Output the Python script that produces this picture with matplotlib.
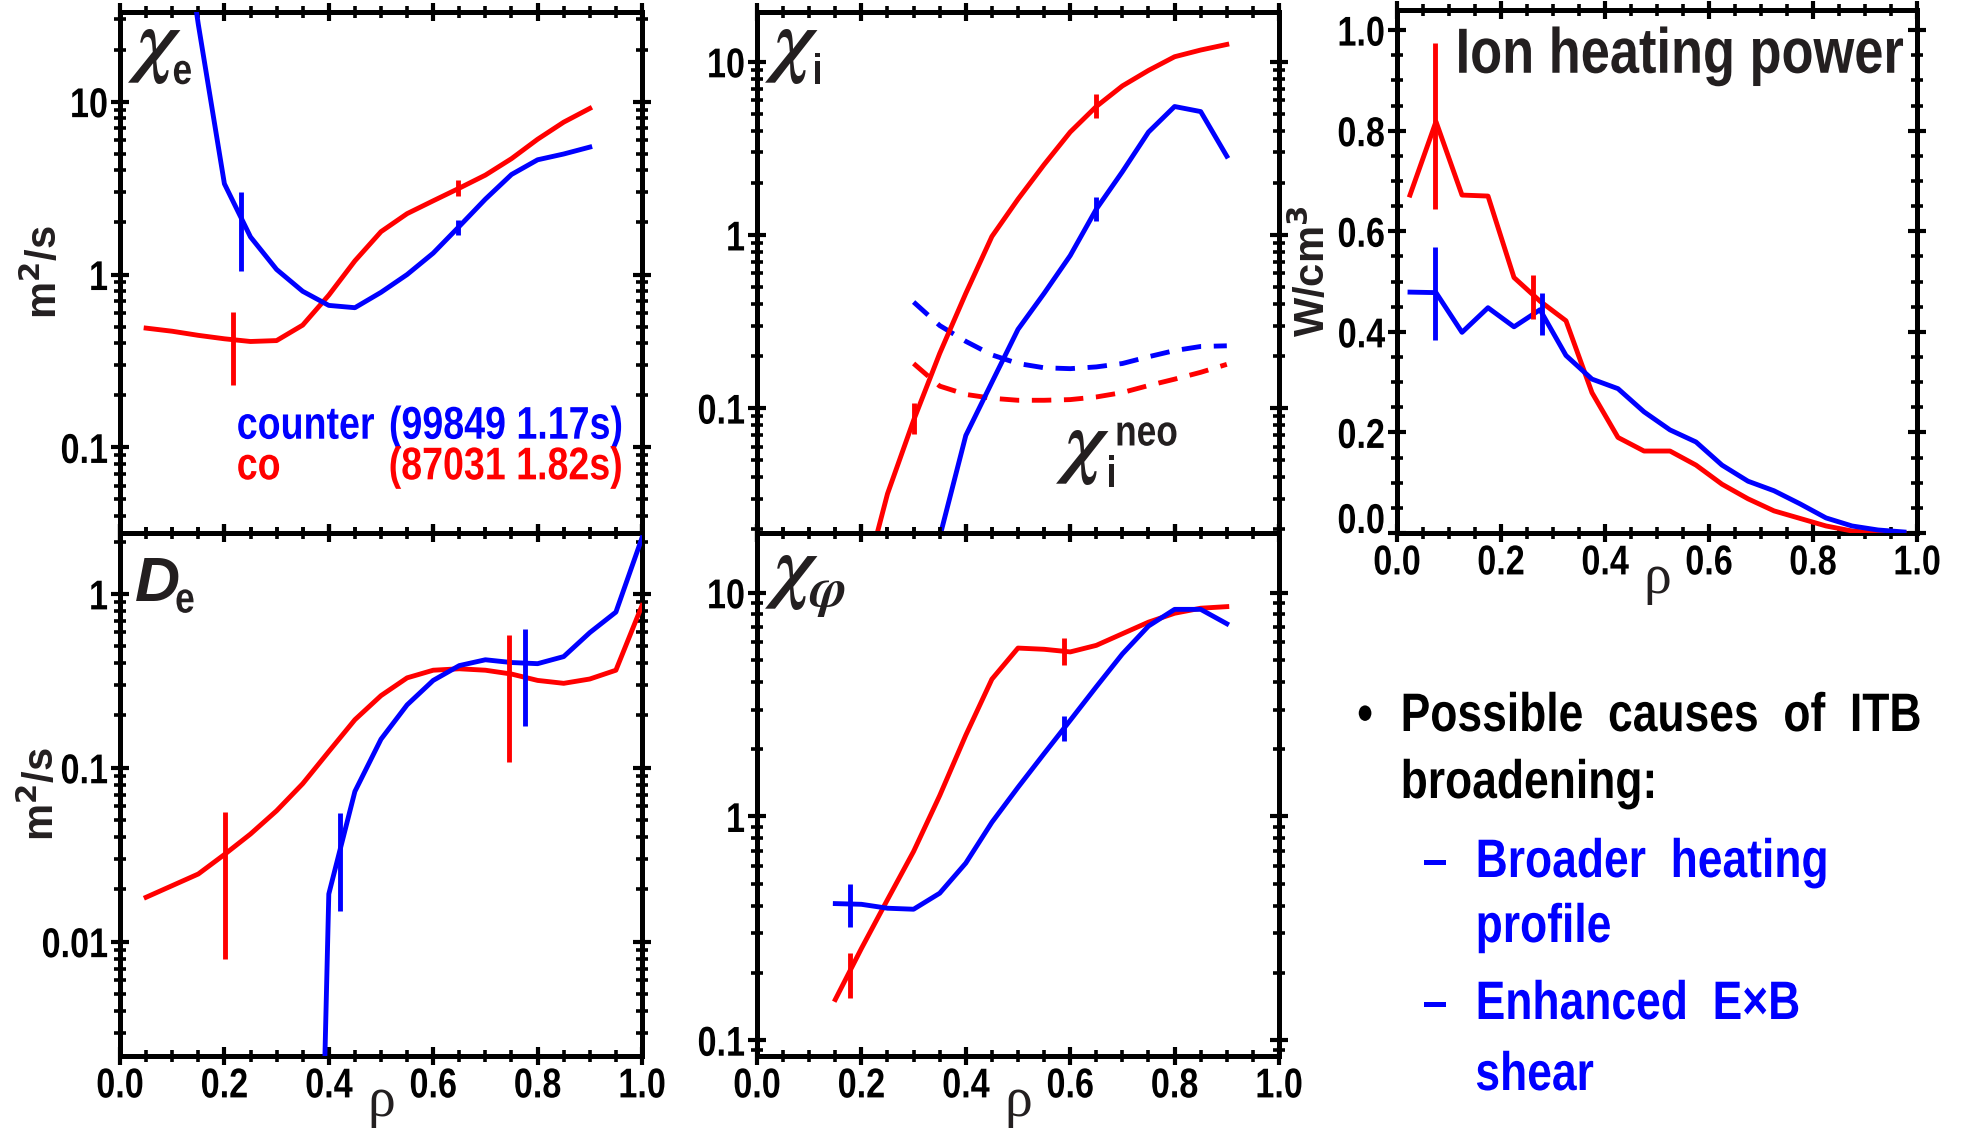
# -*- encoding: utf-8 -*-
import numpy as np
import matplotlib
matplotlib.use('Agg')
from matplotlib import pyplot as plt
from matplotlib.patheffects import AbstractPathEffect
from matplotlib.transforms import Affine2D
from matplotlib.ticker import FixedLocator, LogLocator, MultipleLocator, NullFormatter, FuncFormatter

RED = '#ff0000'
BLUE = '#0000ff'
INK = '#231f20'

# ---- chi_e (top left) ----
chie_co_x = [0.05, 0.10, 0.15, 0.20, 0.25, 0.30, 0.35, 0.40, 0.45, 0.50, 0.55, 0.60, 0.65, 0.70, 0.75, 0.80, 0.85, 0.90]
chie_co = [0.49, 0.47, 0.445, 0.425, 0.41, 0.415, 0.51, 0.76, 1.2, 1.77, 2.25, 2.67, 3.16, 3.76, 4.68, 6.06, 7.61, 9.14]
chie_cnt_x = [0.10, 0.15, 0.20, 0.25, 0.30, 0.35, 0.40, 0.45, 0.50, 0.55, 0.60, 0.65, 0.70, 0.75, 0.80, 0.85, 0.90]
chie_cnt = [300, 28, 3.35, 1.65, 1.07, 0.80, 0.663, 0.643, 0.789, 1.0, 1.33, 1.90, 2.73, 3.79, 4.61, 4.98, 5.46]
chie_co_eb_x, chie_co_eb_y, chie_co_eb = [0.216, 0.648], [0.42, 3.17], [0.19, 0.33]
chie_cnt_eb_x, chie_cnt_eb_y, chie_cnt_eb = [0.231, 0.648], [2.02, 1.88], [0.97, 0.19]

# ---- chi_i (top middle) ----
chii_co_x = [0.20, 0.25, 0.30, 0.35, 0.40, 0.45, 0.50, 0.55, 0.60, 0.65, 0.70, 0.75, 0.80, 0.85, 0.90]
chii_co = [0.0085, 0.032, 0.085, 0.207, 0.46, 0.98, 1.61, 2.55, 3.93, 5.52, 7.26, 8.92, 10.7, 11.7, 12.6]
chii_cnt_x = [0.35, 0.40, 0.45, 0.50, 0.55, 0.60, 0.65, 0.70, 0.75, 0.80, 0.85, 0.90]
chii_cnt = [0.018, 0.0695, 0.141, 0.285, 0.46, 0.76, 1.41, 2.32, 3.93, 5.52, 5.16, 2.85]
neo_x = [0.30, 0.35, 0.40, 0.45, 0.50, 0.55, 0.60, 0.65, 0.70, 0.75, 0.80, 0.85, 0.90]
neo_cnt = [0.41, 0.30, 0.243, 0.203, 0.181, 0.171, 0.169, 0.173, 0.181, 0.198, 0.215, 0.227, 0.229]
neo_co = [0.181, 0.134, 0.120, 0.114, 0.111, 0.111, 0.112, 0.116, 0.123, 0.135, 0.147, 0.161, 0.179]
chii_co_eb_x, chii_co_eb_y, chii_co_eb = [0.30, 0.65], [0.089, 5.6], [0.018, 0.89]
chii_cnt_eb_x, chii_cnt_eb_y, chii_cnt_eb = [0.65], [1.43], [0.22]

# ---- ion heating power (top right) ----
pi_x = [0.025, 0.075, 0.125, 0.175, 0.225, 0.275, 0.325, 0.375, 0.425, 0.475,
        0.525, 0.575, 0.625, 0.675, 0.725, 0.775, 0.825, 0.875, 0.925, 0.975]
pi_co = [0.672, 0.818, 0.672, 0.670, 0.508, 0.461, 0.422, 0.279, 0.190, 0.163,
         0.163, 0.135, 0.097, 0.068, 0.044, 0.029, 0.014, 0.004, 0.0, 0.0]
pi_cnt = [0.479, 0.478, 0.399, 0.448, 0.410, 0.444, 0.353, 0.306, 0.287, 0.241,
          0.205, 0.181, 0.135, 0.103, 0.084, 0.058, 0.030, 0.014, 0.006, 0.002]
pi_co_eb_x, pi_co_eb_y, pi_co_eb = [0.073, 0.262], [0.81, 0.47], [0.165, 0.044]
pi_cnt_eb_x, pi_cnt_eb_y, pi_cnt_eb = [0.073, 0.279], [0.476, 0.436], [0.093, 0.042]

# ---- D_e (bottom left) ----
de_co_x = [0.05, 0.10, 0.15, 0.20, 0.25, 0.30, 0.35, 0.40, 0.45, 0.50,
           0.55, 0.60, 0.65, 0.70, 0.75, 0.80, 0.85, 0.90, 0.95, 1.00]
de_co = [0.0180, 0.0210, 0.0245, 0.0317, 0.0416, 0.0566, 0.0810, 0.124, 0.189, 0.260,
         0.329, 0.364, 0.371, 0.364, 0.346, 0.318, 0.306, 0.324, 0.364, 0.857]
de_cnt_x = [0.35, 0.40, 0.45, 0.50, 0.55, 0.60, 0.65, 0.70, 0.75, 0.80, 0.85, 0.90, 0.95, 1.00]
de_cnt = [1e-8, 0.0188, 0.0731, 0.146, 0.230, 0.318, 0.387, 0.418, 0.403, 0.397, 0.436, 0.599, 0.786, 2.10]
de_co_eb_x, de_co_eb_y, de_co_eb = [0.201, 0.745], [0.0318, 0.346], [0.0239, 0.238]
de_cnt_eb_x, de_cnt_eb_y, de_cnt_eb = [0.421, 0.775], [0.0348, 0.40], [0.0198, 0.225]

# ---- chi_phi (bottom middle) ----
chip_x = [0.15, 0.20, 0.25, 0.30, 0.35, 0.40, 0.45, 0.50, 0.55, 0.60, 0.65, 0.70, 0.75, 0.80, 0.85, 0.90]
chip_co = [0.152, 0.257, 0.425, 0.698, 1.24, 2.31, 4.11, 5.66, 5.59, 5.44, 5.82, 6.56, 7.39, 8.10, 8.53, 8.67]
chip_cnt = [0.408, 0.405, 0.389, 0.385, 0.454, 0.619, 0.942, 1.35, 1.91, 2.69, 3.80, 5.33, 7.10, 8.43, 8.43, 7.27]
chip_co_eb_x, chip_co_eb_y, chip_co_eb = [0.178, 0.588], [0.20, 5.5], [0.045, 0.76]
chip_cnt_eb_x, chip_cnt_eb_y, chip_cnt_eb = [0.178, 0.588], [0.41, 2.5], [0.088, 0.32]


# Helvetica Narrow = Helvetica stretta all'82%: schiaccio i tracciati del testo
class Squeeze(AbstractPathEffect):
    def __init__(self, sx=0.82, anchor='left'):
        super().__init__()
        self.sx = sx
        self.anchor = anchor

    def draw_path(self, renderer, gc, tpath, affine, rgbFace=None):
        ext = tpath.get_extents(affine)
        if self.anchor == 'left':
            x0 = ext.x0
        elif self.anchor == 'right':
            x0 = ext.x1
        else:
            x0 = 0.5 * (ext.x0 + ext.x1)
        aff = affine + Affine2D().translate(-x0, 0).scale(self.sx, 1).translate(x0, 0)
        renderer.draw_path(gc, tpath, aff, rgbFace)


SANS = ['Liberation Sans', 'DejaVu Sans']
SERIF = ['Liberation Serif', 'DejaVu Serif']
matplotlib.rcParams['font.family'] = SANS
matplotlib.rcParams['font.weight'] = 'bold'

W, H = 1965., 1129.
fig = plt.figure(figsize=(W / 100, H / 100), dpi=100)


def pix_axes(l, t, r, b):
    return fig.add_axes((l / W, 1 - b / H, (r - l) / W, (b - t) / H))


def ntext(obj, x, y, s, size, color=INK, ha='left', trans=None, **kw):
    if trans is None:
        trans = obj.transAxes
    return obj.text(x, y, s, fontsize=size, color=color, ha=ha, va='baseline',
                    transform=trans, path_effects=[Squeeze(0.82, ha)], **kw)


LW = 3.5


def style(ax, logy=True, xlabels=True):
    for s in ax.spines.values():
        s.set_linewidth(3.6)
    ax.set_xlim(0, 1)
    ax.xaxis.set_major_locator(MultipleLocator(0.2))
    ax.xaxis.set_minor_locator(MultipleLocator(0.05))
    ax.xaxis.set_major_formatter(FuncFormatter(lambda v, p: '%.1f' % v))
    if logy:
        ax.set_yscale('log')
        ax.yaxis.set_major_locator(FixedLocator([0.01, 0.1, 1, 10]))
        ax.yaxis.set_minor_locator(LogLocator(base=10, subs=np.arange(2, 10)))
        ax.yaxis.set_minor_formatter(NullFormatter())
        ax.yaxis.set_major_formatter(FuncFormatter(lambda v, p: '%g' % v))
    ax.tick_params(which='both', direction='inout', top=True, right=True,
                   width=3, labelsize=30)
    ax.tick_params(which='major', length=13)
    ax.tick_params(which='minor', length=8, width=2.6)
    ax.tick_params(axis='y', pad=2)
    ax.tick_params(axis='x', pad=1)
    if not xlabels:
        ax.tick_params(axis='x', labelbottom=False)
    else:
        ax.text(0.5, -0.115, u'ρ', transform=ax.transAxes, ha='center', va='baseline',
                family=SERIF, fontweight='normal', fontsize=40, color=INK)


def curves(ax, xc, yc, xb, yb, ebc_x, ebc_y, ebc_e, ebb_x, ebb_y, ebb_e):
    ax.plot(xc, yc, color=RED, lw=LW, zorder=3)
    ax.plot(xb, yb, color=BLUE, lw=LW, zorder=3)
    ax.errorbar(ebc_x, ebc_y, yerr=ebc_e, fmt='none', ecolor=RED, elinewidth=LW, capsize=0, zorder=3)
    ax.errorbar(ebb_x, ebb_y, yerr=ebb_e, fmt='none', ecolor=BLUE, elinewidth=LW, capsize=0, zorder=3)


def chi(ax, x, y, size=58):
    ax.text(x, y, r'$\chi$', transform=ax.transAxes, ha='left', va='baseline',
            math_fontfamily='stix', fontsize=size, color=INK)


def units(ax, x, s):
    ax.text(x, 0.5, s, transform=ax.transAxes, rotation=90, ha='center', va='center',
            fontsize=30, color=INK)


# GRAFICO chi_e ##########
ax1 = pix_axes(120, 12, 642, 533)
style(ax1, xlabels=False)
ax1.set_ylim(0.032, 33)
curves(ax1, chie_co_x, chie_co, chie_cnt_x, chie_cnt,
       chie_co_eb_x, chie_co_eb_y, chie_co_eb, chie_cnt_eb_x, chie_cnt_eb_y, chie_cnt_eb)
chi(ax1, 0.015, 0.895)
ntext(ax1, 0.10, 0.862, 'e', 31)
units(ax1, -0.146, u'm$^\\mathbf{2}$/s')
ntext(ax1, 0.223, 0.181, 'counter', 33, BLUE)
ntext(ax1, 0.965, 0.181, '(99849 1.17s)', 33, BLUE, ha='right')
ntext(ax1, 0.223, 0.103, 'co', 33, RED)
ntext(ax1, 0.965, 0.103, '(87031 1.82s)', 33, RED, ha='right')

# GRAFICO chi_i ##########
ax2 = pix_axes(757, 12, 1279, 533)
style(ax2, xlabels=False)
ax2.set_ylim(0.019, 19.4)
curves(ax2, chii_co_x, chii_co, chii_cnt_x, chii_cnt,
       chii_co_eb_x, chii_co_eb_y, chii_co_eb, chii_cnt_eb_x, chii_cnt_eb_y, chii_cnt_eb)
ax2.plot(neo_x, neo_cnt, color=BLUE, lw=LW, ls=(0, (4.0, 2.6)), zorder=2)
ax2.plot(neo_x, neo_co, color=RED, lw=LW, ls=(0, (4.0, 2.6)), zorder=2)
chi(ax2, 0.015, 0.895)
ntext(ax2, 0.105, 0.862, 'i', 31)
chi(ax2, 0.572, 0.125)
ntext(ax2, 0.668, 0.089, 'i', 31)
ntext(ax2, 0.685, 0.168, 'neo', 31)

# GRAFICO ion heating ##########
ax3 = pix_axes(1397, 10, 1917, 533)
style(ax3, logy=False)
ax3.set_ylim(0, 1.04)
ax3.yaxis.set_major_locator(MultipleLocator(0.2))
ax3.yaxis.set_minor_locator(MultipleLocator(0.05))
ax3.yaxis.set_major_formatter(FuncFormatter(lambda v, p: '%.1f' % v))
curves(ax3, pi_x, pi_co, pi_x, pi_cnt,
       pi_co_eb_x, pi_co_eb_y, pi_co_eb, pi_cnt_eb_x, pi_cnt_eb_y, pi_cnt_eb)
ntext(ax3, 0.975, 0.88, 'Ion heating power', 46, ha='right')
units(ax3, -0.163, u'W/cm$^\\mathbf{3}$')

# GRAFICO D_e ##########
ax4 = pix_axes(120, 533, 642, 1056)
style(ax4)
ax4.set_ylim(0.0022, 2.24)
curves(ax4, de_co_x, de_co, de_cnt_x, de_cnt,
       de_co_eb_x, de_co_eb_y, de_co_eb, de_cnt_eb_x, de_cnt_eb_y, de_cnt_eb)
ax4.text(0.028, 0.87, 'D', transform=ax4.transAxes, va='baseline', fontsize=45,
         fontstyle='italic', color=INK)
ntext(ax4, 0.105, 0.848, 'e', 31)
units(ax4, -0.15, u'm$^\\mathbf{2}$/s')

# GRAFICO chi_phi ##########
ax5 = pix_axes(757, 533, 1279, 1056)
style(ax5)
ax5.set_ylim(0.085, 18.5)
curves(ax5, chip_x, chip_co, chip_x, chip_cnt,
       chip_co_eb_x, chip_co_eb_y, chip_co_eb, chip_cnt_eb_x, chip_cnt_eb_y, chip_cnt_eb)
chi(ax5, 0.015, 0.885)
ax5.text(0.10, 0.86, r'$\varphi$', transform=ax5.transAxes, va='baseline',
         math_fontfamily='stix', fontsize=40, color=INK)

# testo a destra
blk = [(1357, 731, u'•', 'black'), (1400, 731, 'Possible  causes  of  ITB', 'black'),
       (1400, 798, 'broadening:', 'black'),
       (1422, 877, u'–', BLUE), (1475, 877, 'Broader  heating', BLUE),
       (1475, 942, 'profile', BLUE),
       (1422, 1019, u'–', BLUE), (1475, 1019, u'Enhanced  E×B', BLUE),
       (1475, 1090, 'shear', BLUE)]
for x, y, s, c in blk:
    ntext(fig, x / W, 1 - y / H, s, 39, c, trans=fig.transFigure)

# etichette dei tick strette, 0.0 del grafico a destra alzata
fig.canvas.draw()
for ax in (ax1, ax2, ax3, ax4, ax5):
    for lab in ax.get_xticklabels():
        lab.set_path_effects([Squeeze(0.82, 'center')])
    for lab in ax.get_yticklabels():
        lab.set_path_effects([Squeeze(0.82, 'right')])
for lab in ax3.get_yticklabels():
    if lab.get_text() == '0.0':
        lab.set_verticalalignment('baseline')

fig.savefig('out.png', dpi=100)
